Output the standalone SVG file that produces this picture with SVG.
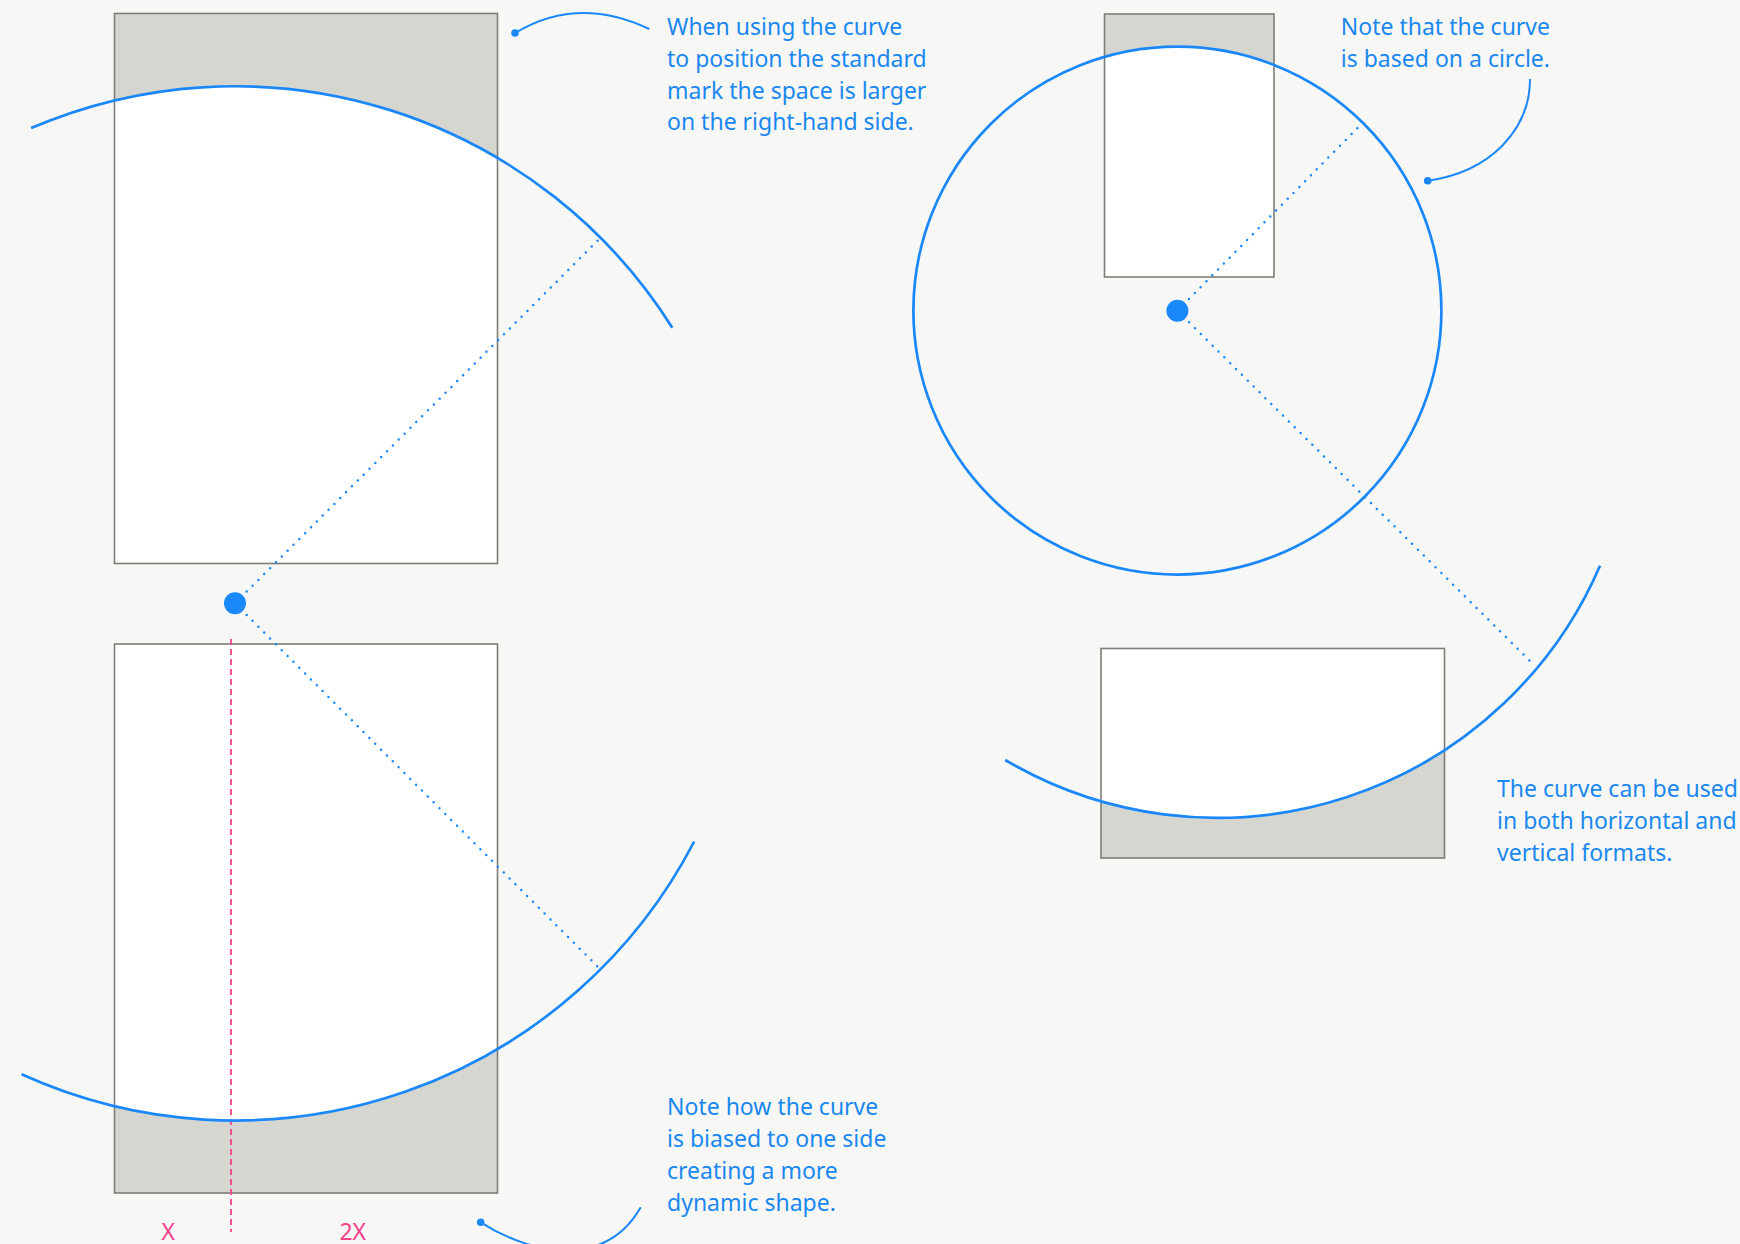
<svg xmlns="http://www.w3.org/2000/svg" width="1740" height="1244" viewBox="0 0 1740 1244">
  <style>
    .panel { fill: #d6d6d0; }
    .edge { fill: none; stroke: #7d7d76; stroke-width: 1.6; }
    .white { fill: #ffffff; }
    .arc { fill: none; stroke: #1a88fb; stroke-width: 2.7; }
    .dots { fill: none; stroke: #1a88fb; stroke-width: 2.5; stroke-linecap: round; stroke-dasharray: 0 8.27; }
    .lead { fill: none; stroke: #1a88fb; stroke-width: 2; }
    .pin { fill: #1a88fb; }
    .note { font-family: "Noto Sans", "Open Sans", sans-serif; font-size: 23px; fill: #1a88f0; }
    .pink { font-family: "Noto Sans", "Open Sans", sans-serif; font-size: 23px; fill: #f5418a; }
  </style>
  <defs>
    <clipPath id="c1"><rect x="114.5" y="13.5" width="383" height="550"/></clipPath>
    <clipPath id="c2"><rect x="114.5" y="644" width="383" height="549"/></clipPath>
    <clipPath id="c3"><rect x="1104.5" y="14" width="169.5" height="263"/></clipPath>
    <clipPath id="c4"><rect x="1101" y="648.5" width="343.5" height="209.5"/></clipPath>
  </defs>
  <rect x="0" y="0" width="1740" height="1244" fill="#f7f7f5"/>

  <g id="panel-vertical-top">
    <rect class="panel" x="114.5" y="13.5" width="383" height="550"/>
    <circle class="white" cx="234.8" cy="603.3" r="517" clip-path="url(#c1)"/>
    <rect class="edge" x="114.5" y="13.5" width="383" height="550"/>
  </g>
  <g id="panel-vertical-bottom">
    <rect class="panel" x="114.5" y="644" width="383" height="549"/>
    <circle class="white" cx="234.8" cy="603.3" r="517" clip-path="url(#c2)"/>
    <rect class="edge" x="114.5" y="644" width="383" height="549"/>
  </g>
  <g id="panel-circle-top">
    <rect class="panel" x="1104.5" y="14" width="169.5" height="263"/>
    <circle class="white" cx="1177.4" cy="310.6" r="264" clip-path="url(#c3)"/>
    <rect class="edge" x="1104.5" y="14" width="169.5" height="263"/>
  </g>
  <g id="panel-horizontal">
    <rect class="panel" x="1101" y="648.5" width="343.5" height="209.5"/>
    <circle class="white" cx="1217" cy="400.5" r="417" clip-path="url(#c4)"/>
    <rect class="edge" x="1101" y="648.5" width="343.5" height="209.5"/>
  </g>

  <g id="measure">
    <line x1="231" y1="639" x2="231" y2="1232" stroke="#f5418a" stroke-width="1.8" stroke-dasharray="6 4"/>
    <text class="pink" x="168.3" y="1240" text-anchor="middle">X</text>
    <text class="pink" x="352.7" y="1240" text-anchor="middle">2X</text>
  </g>

  <g id="connectors">
    <path class="arc" d="M31.1,128.1 A517,517 0 0 1 672.3,327.7"/>
    <path class="arc" d="M21.6,1074.3 A517,517 0 0 0 694.2,841.5"/>
    <circle class="arc" cx="1177.4" cy="310.6" r="264"/>
    <path class="arc" d="M1005.2,760 A417,417 0 0 0 1600,565.7"/>
    <line class="dots" x1="235" y1="603.3" x2="598.5" y2="239.8"/>
    <line class="dots" x1="235" y1="603.3" x2="599.5" y2="968.5"/>
    <line class="dots" x1="1177.4" y1="310.7" x2="1358.5" y2="127"/>
    <line class="dots" x1="1177.4" y1="310.7" x2="1533" y2="664"/>
    <path class="lead" d="M515,33 Q578,-5 649.3,29"/>
    <path class="lead" d="M1427.7,180.7 C1490,172 1530,130 1530,79"/>
    <path class="lead" d="M480.7,1222.3 C530,1254 605,1270 640.7,1207.3"/>
  </g>

  <g id="markers">
    <circle class="pin" cx="235" cy="603.3" r="11"/>
    <circle class="pin" cx="1177.4" cy="310.7" r="11"/>
    <circle class="pin" cx="515" cy="33" r="3.8"/>
    <circle class="pin" cx="1427.7" cy="180.7" r="3.8"/>
    <circle class="pin" cx="480.7" cy="1222.3" r="3.8"/>
  </g>

  <g id="note-right-hand">
    <text class="note" x="667" y="35">When using the curve</text>
    <text class="note" x="667" y="67">to position the standard</text>
    <text class="note" x="667" y="99">mark the space is larger</text>
    <text class="note" x="667" y="130">on the right-hand side.</text>
  </g>
  <g id="note-circle">
    <text class="note" x="1340.8" y="35">Note that the curve</text>
    <text class="note" x="1340.8" y="67">is based on a circle.</text>
  </g>
  <g id="note-formats">
    <text class="note" x="1497" y="797">The curve can be used</text>
    <text class="note" x="1497" y="829">in both horizontal and</text>
    <text class="note" x="1497" y="861">vertical formats.</text>
  </g>
  <g id="note-biased">
    <text class="note" x="667" y="1115">Note how the curve</text>
    <text class="note" x="667" y="1147">is biased to one side</text>
    <text class="note" x="667" y="1179">creating a more</text>
    <text class="note" x="667" y="1211">dynamic shape.</text>
  </g>
</svg>
